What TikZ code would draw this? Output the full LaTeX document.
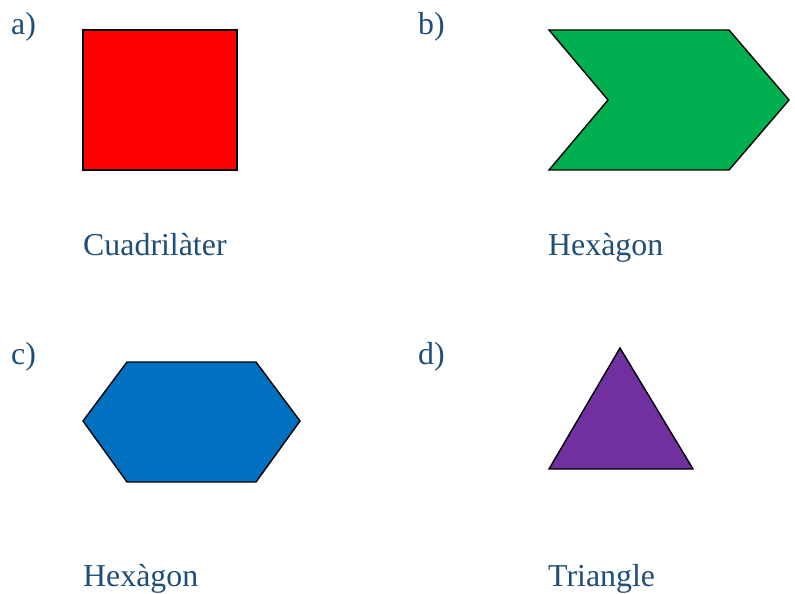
\documentclass[tikz,border=0pt]{standalone}
\usepackage{fontspec}
\setmainfont{Liberation Serif}
\definecolor{txtblue}{HTML}{1F4E79}
\definecolor{sqred}{HTML}{FF0000}
\definecolor{chgreen}{HTML}{00B050}
\definecolor{hxblue}{HTML}{0070C0}
\definecolor{trpurple}{HTML}{7030A0}
\tikzset{
  lbl/.style={anchor=base west, inner sep=0pt, text=txtblue, font=\fontsize{32}{36}\selectfont},
  shp/.style={draw=black, line width=1.4bp, line join=miter}
}
\begin{document}
\begin{tikzpicture}[x=1bp,y=-1bp]
\useasboundingbox (0,0) rectangle (795,594);
% a)
\node[lbl] (la) at (11,35) {a)};
\fill[sqred] (83,30) rectangle (237,170);
\draw[shp] (83,30) rectangle (237,170);
\node[lbl] (ta) at (83,255) {Cuadrilàter};
% b)
\node[lbl] (lb) at (418,35) {b)};
\draw[shp, fill=chgreen] (549,30) -- (729,30) -- (789,100) -- (729,170) -- (549,170) -- (608,100) -- cycle;
\node[lbl] (tb) at (548,255) {Hexàgon};
% c)
\node[lbl] (lc) at (11,364) {c)};
\draw[shp, fill=hxblue] (83,421) -- (127,362) -- (256,362) -- (300,421) -- (256,482) -- (127,482) -- cycle;
\node[lbl] (tc) at (83,586) {Hexàgon};
% d)
\node[lbl] (ld) at (418,364) {d)};
\draw[shp, fill=trpurple] (620,348) -- (693,469) -- (549,469) -- cycle;
\node[lbl] (td) at (548,586) {Triangle};
\end{tikzpicture}
\end{document}
